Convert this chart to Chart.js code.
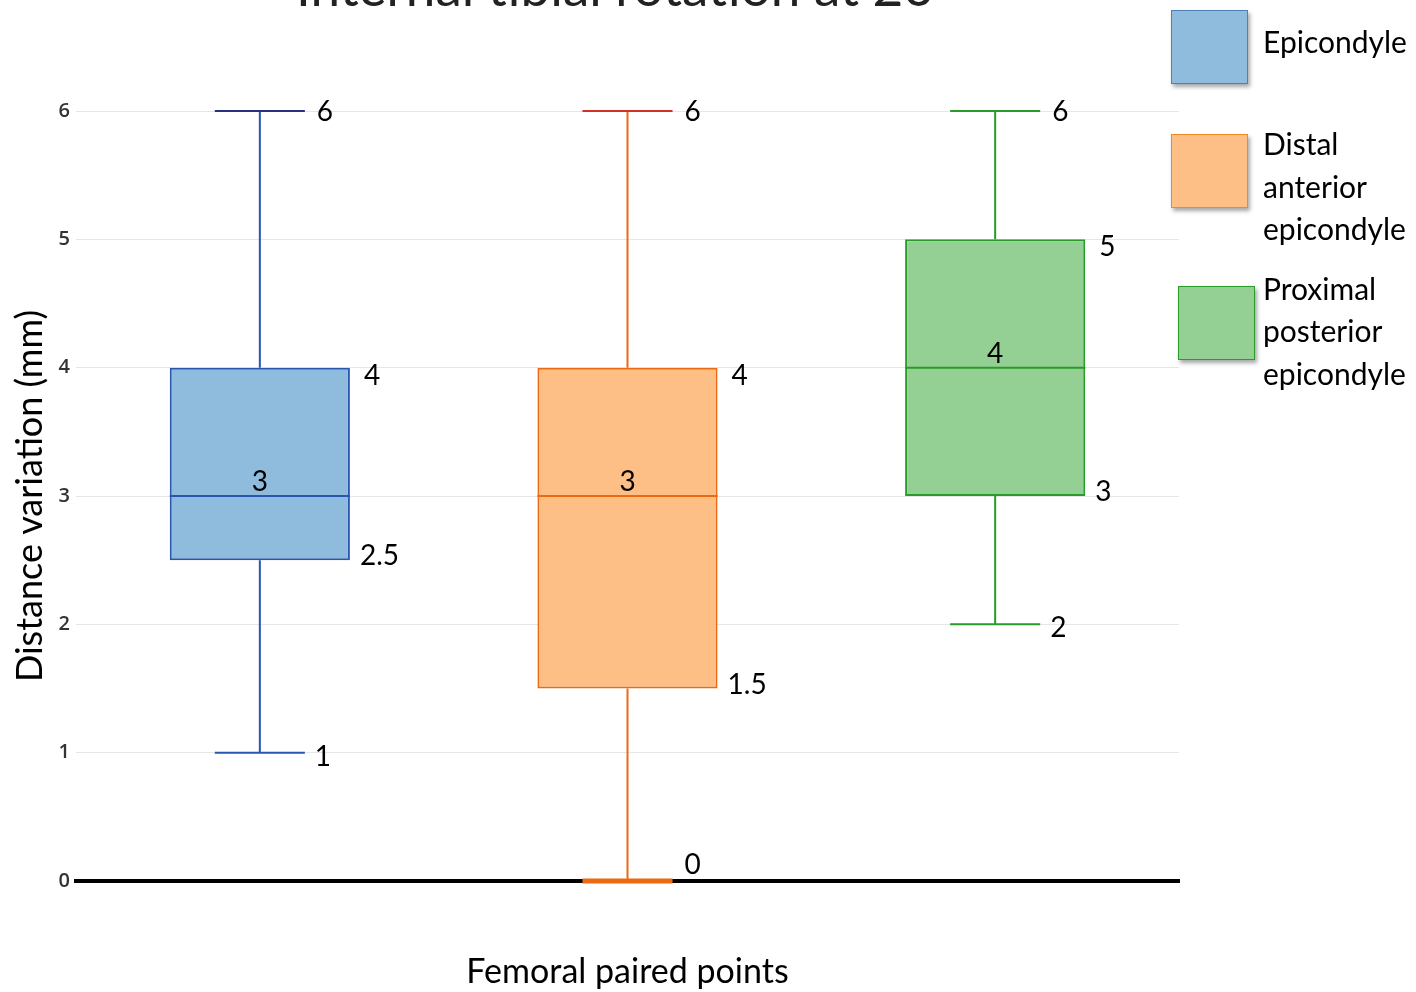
<!DOCTYPE html>
<html>
<head>
<meta charset="utf-8">
<script src="https://cdn.jsdelivr.net/npm/chart.js@4"></script>
<style>
  body { margin: 0; background: #fff; }
  #wrap { position: relative; width: 1416px; height: 992px; }
  #legend { position: absolute; left: 1170px; top: 0; font-family: Lato, sans-serif; font-size: 30px; color: #000; }
  .sw { position: absolute; width: 75px; height: 72px; box-shadow: 2px 3px 4px rgba(0,0,0,0.35); }
  .txt { position: absolute; left: 93px; line-height: 43px; white-space: nowrap; }
</style>
</head>
<body>
<div id="wrap">
  <canvas id="myChart"></canvas>
  <div id="legend"></div>
</div>
<script>
// datos del box plot
const groups = ["Epicondyle", "Distal anterior epicondyle", "Proximal posterior epicondyle"];
const legendLines = [["Epicondyle"], ["Distal", "anterior", "epicondyle"], ["Proximal", "posterior", "epicondyle"]];
const minVals = [1, 0, 2];
const q1Vals = [2.5, 1.5, 3];
const medianVals = [3, 3, 4];
const q3Vals = [4, 4, 5];
const maxVals = [6, 6, 6];
const yTicks = [0, 1, 2, 3, 4, 5, 6];

const fills = ["#8fbcdc", "#fdbf85", "#94d094"];
const strokes = ["#2b56b0", "#ec6a10", "#2a9a2a"];
const topCaps = ["#2a2f80", "#d3302c", "#2a9a2a"];
const legendBorders = ["#4f7fb5", "#f08a20", "#2a9a2a"];
const legendPos = [[1, 10], [1, 134], [8, 286]];
const textTops = [[20], [122, 165, 207], [267, 309, 352]];

// leyenda en html
const legend = document.getElementById("legend");
groups.forEach((g, i) => {
  const sw = document.createElement("div");
  sw.className = "sw";
  sw.style.left = legendPos[i][0] + "px";
  sw.style.top = legendPos[i][1] + "px";
  sw.style.background = fills[i];
  sw.style.border = "1.5px solid " + legendBorders[i];
  legend.appendChild(sw);
  legendLines[i].forEach((line, j) => {
    const t = document.createElement("div");
    t.className = "txt";
    t.style.top = textTops[i][j] + "px";
    t.textContent = line;
    legend.appendChild(t);
  });
});

const whiskers = {
  id: "whiskers",
  afterDatasetsDraw(chart) {
    const ctx = chart.ctx;
    const y = chart.scales.y;
    const meta = chart.getDatasetMeta(0);
    ctx.save();
    meta.data.forEach((bar, i) => {
      const x = bar.x;
      const half = bar.width / 2;
      const cap = bar.width / 4;
      const yMin = y.getPixelForValue(minVals[i]);
      const yQ1 = y.getPixelForValue(q1Vals[i]);
      const yMed = y.getPixelForValue(medianVals[i]);
      const yQ3 = y.getPixelForValue(q3Vals[i]);
      const yMax = y.getPixelForValue(maxVals[i]);

      ctx.lineWidth = 2;
      ctx.strokeStyle = strokes[i];
      ctx.beginPath();
      ctx.moveTo(x, yQ3); ctx.lineTo(x, yMax);
      ctx.moveTo(x, yQ1); ctx.lineTo(x, yMin);
      ctx.moveTo(x - half, yMed); ctx.lineTo(x + half, yMed);
      ctx.stroke();

      // bigote de abajo
      ctx.lineWidth = minVals[i] === 0 ? 5 : 2;
      ctx.beginPath();
      ctx.moveTo(x - cap, yMin); ctx.lineTo(x + cap, yMin);
      ctx.stroke();

      // bigote de arriba
      ctx.lineWidth = 2;
      ctx.strokeStyle = topCaps[i];
      ctx.beginPath();
      ctx.moveTo(x - cap, yMax); ctx.lineTo(x + cap, yMax);
      ctx.stroke();

      ctx.fillStyle = "#000";
      ctx.font = "28px Lato, sans-serif";
      ctx.textAlign = "left";
      ctx.textBaseline = "middle";
      ctx.fillText(String(maxVals[i]), x + cap + 12, yMax + 1);
      ctx.fillText(String(q3Vals[i]), x + half + 14, yQ3 + 8);
      ctx.fillText(String(q1Vals[i]), x + half + 10, yQ1 - 4);
      if (minVals[i] === 0) {
        ctx.textBaseline = "bottom";
        ctx.fillText(String(minVals[i]), x + cap + 12, yMin - 2);
      } else {
        ctx.fillText(String(minVals[i]), x + cap + 10, yMin + 4);
      }
      ctx.textAlign = "center";
      ctx.textBaseline = "bottom";
      ctx.fillText(String(medianVals[i]), x, yMed);
    });
    ctx.restore();
  },
  afterDraw(chart) {
    // titulo cortado arriba
    const ctx = chart.ctx;
    ctx.save();
    ctx.fillStyle = "#222";
    ctx.font = "53px Lato, sans-serif";
    ctx.textAlign = "center";
    ctx.textBaseline = "alphabetic";
    ctx.fillText("Internal tibial rotation at 20°", 626, 6);
    ctx.restore();
  }
};

const ctx = document.getElementById("myChart").getContext("2d");
const myChart = new Chart(ctx, {
  type: "bar",
  data: {
    labels: groups,
    datasets: [{
      data: q1Vals.map((q, i) => [q, q3Vals[i]]),
      backgroundColor: fills,
      borderColor: strokes,
      borderWidth: 2,
      borderSkipped: false,
      barPercentage: 0.49,
      categoryPercentage: 1
    }]
  },
  options: {
    responsive: true,
    maintainAspectRatio: false,
    animation: false,
    layout: { padding: { top: 111, right: 237, left: 0, bottom: 0 } },
    plugins: { legend: { display: false }, tooltip: { enabled: false } },
    scales: {
      x: {
        ticks: { display: false },
        grid: { display: false },
        border: { color: "#000", width: 4 },
        title: { display: true, text: "Femoral paired points", font: { family: "Lato", size: 34 }, color: "#000", padding: { top: 0, bottom: 0 } },
        afterFit: (s) => { s.height = 111; }
      },
      y: {
        min: 0,
        max: 6,
        afterBuildTicks: (s) => { s.ticks = yTicks.map(v => ({ value: v })); },
        ticks: { font: { family: "Open Sans", size: 20, weight: "600" }, color: "#333", padding: 6 },
        grid: { color: "#e6e6e6", lineWidth: 1, drawTicks: false },
        border: { display: false },
        title: { display: true, text: "Distance variation (mm)", font: { family: "Lato", size: 36 }, color: "#000", padding: { top: 9, bottom: 0 } },
        afterFit: (s) => { s.width = 76; }
      }
    }
  },
  plugins: [whiskers]
});
</script>
</body>
</html>
